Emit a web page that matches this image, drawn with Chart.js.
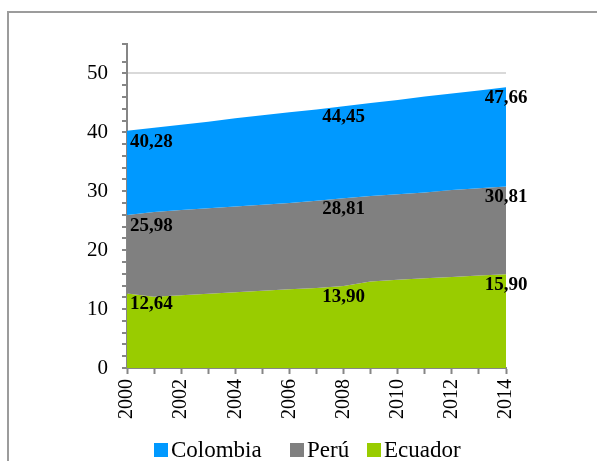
<!DOCTYPE html>
<html>
<head>
<meta charset="utf-8">
<script src="https://cdn.jsdelivr.net/npm/chart.js@4"></script>
<style>
  html, body { margin: 0; padding: 0; background: #fff; }
  #wrap { position: relative; width: 597px; height: 461px; overflow: hidden; }
  #frame { position: absolute; left: 7px; top: 11px; width: 620px; height: 480px; border: 2px solid #9c9c9c; }
  #chart { position: absolute; left: 0; top: 0; }
</style>
</head>
<body>
<div id="wrap">
  <div id="frame"></div>
  <canvas id="chart" width="597" height="461"></canvas>
</div>
<script>
var years = ["2000", "2001", "2002", "2003", "2004", "2005", "2006", "2007",
             "2008", "2009", "2010", "2011", "2012", "2013", "2014"];
var colombia = [40.28, 40.8, 41.3, 41.8, 42.4, 42.9, 43.4, 43.9, 44.45, 45.0, 45.5, 46.1, 46.6, 47.1, 47.66];
var peru = [25.98, 26.5, 26.8, 27.1, 27.4, 27.7, 28.0, 28.4, 28.81, 29.2, 29.5, 29.8, 30.2, 30.5, 30.81];
var ecuador = [12.64, 12.1, 12.35, 12.6, 12.85, 13.1, 13.35, 13.6, 13.90, 14.7, 15.0, 15.25, 15.45, 15.7, 15.90];
var labelIdx = [0, 8, 14];

var serif = "'Liberation Serif', 'Times New Roman', serif";

// value labels drawn under the top edge of each area
var valueLabels = {
  id: "valueLabels",
  afterDatasetsDraw: function(chart) {
    var ctx = chart.ctx;
    ctx.save();
    ctx.font = "bold 19px " + serif;
    ctx.fillStyle = "#000";
    ctx.textBaseline = "middle";
    chart.data.datasets.forEach(function(ds, i) {
      var meta = chart.getDatasetMeta(i);
      labelIdx.forEach(function(j) {
        var pt = meta.data[j];
        var txt = ds.data[j].toFixed(2).replace(".", ",");
        if (j === 0) {
          ctx.textAlign = "left";
          ctx.fillText(txt, pt.x + 3, pt.y + 11);
        } else {
          ctx.textAlign = "center";
          ctx.fillText(txt, pt.x, pt.y + 11);
        }
      });
    });
    ctx.restore();
  }
};

// legend like the office one: small square, text right next to it
var boxLegend = {
  id: "boxLegend",
  afterDraw: function(chart) {
    var ctx = chart.ctx;
    var xs = [154, 290, 367];
    ctx.save();
    ctx.font = "23px " + serif;
    ctx.textBaseline = "middle";
    ctx.textAlign = "left";
    chart.data.datasets.forEach(function(ds, i) {
      ctx.fillStyle = ds.backgroundColor;
      ctx.fillRect(xs[i], 443, 14, 14);
      ctx.fillStyle = "#000";
      ctx.fillText(ds.label, xs[i] + 17, 451);
    });
    ctx.restore();
  }
};

new Chart("chart", {
  type: "line",
  data: {
    labels: years,
    datasets: [
      { label: "Colombia", data: colombia, backgroundColor: "#0099ff", borderColor: "#0099ff", fill: "+1" },
      { label: "Perú", data: peru, backgroundColor: "#808080", borderColor: "#808080", fill: "+1" },
      { label: "Ecuador", data: ecuador, backgroundColor: "#99cc00", borderColor: "#99cc00", fill: "origin" }
    ]
  },
  options: {
    responsive: false,
    animation: false,
    layout: { padding: { left: 0, right: 91, top: 44, bottom: 40 } },
    elements: {
      point: { radius: 0 },
      line: { borderWidth: 0, tension: 0 }
    },
    plugins: {
      tooltip: { enabled: false },
      legend: { display: false }
    },
    scales: {
      x: {
        offset: false,
        border: { color: "#868686", width: 2 },
        grid: { drawOnChartArea: false, tickLength: 6, tickColor: "#868686", tickWidth: 2 },
        ticks: {
          autoSkip: false,
          minRotation: 90,
          maxRotation: 90,
          padding: 5,
          color: "#000",
          font: { family: serif, size: 20 },
          callback: function(v, i) { return i % 2 === 0 ? years[i] : ""; }
        },
        afterFit: function(scale) { scale.height = 53; }
      },
      y: {
        min: 0,
        max: 55,
        border: { color: "#868686", width: 2 },
        grid: {
          tickLength: 5,
          tickColor: "#868686",
          tickWidth: 2,
          lineWidth: 2,
          color: function(c) { return c.tick && c.tick.value % 10 === 0 ? "#d9d9d9" : "rgba(0,0,0,0)"; }
        },
        ticks: {
          autoSkip: false,
          stepSize: 2,
          padding: 14,
          color: "#000",
          font: { family: serif, size: 21 },
          callback: function(v) { return v % 10 === 0 ? v : ""; }
        },
        afterFit: function(scale) { scale.width = 127; }
      }
    }
  },
  plugins: [valueLabels, boxLegend]
});
</script>
</body>
</html>
